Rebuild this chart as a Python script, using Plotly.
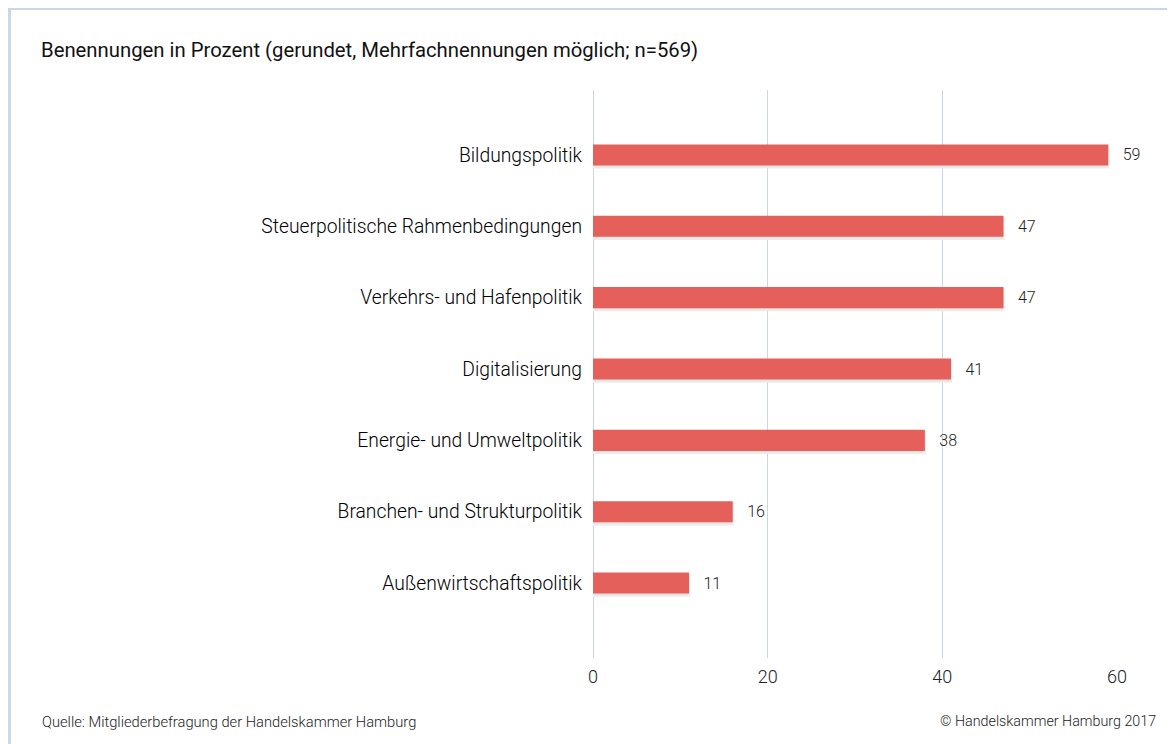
import plotly.graph_objects as go

categories = [
    "Bildungspolitik",
    "Steuerpolitische Rahmenbedingungen",
    "Verkehrs- und Hafenpolitik",
    "Digitalisierung",
    "Energie- und Umweltpolitik",
    "Branchen- und Strukturpolitik",
    "Außenwirtschaftspolitik",
]
values = [59, 47, 47, 41, 38, 16, 11]
x_ticks = [0, 20, 40, 60]

title_text = "Benennungen in Prozent (gerundet, Mehrfachnennungen möglich; n=569)"
source_text = "Quelle: Mitgliederbefragung der Handelskammer Hamburg"
copyright_text = "© Handelskammer Hamburg 2017"

FONT = "Roboto, Arial"
O = 8  # default body margin of the page
W, H = 1175 - O, 744 - O
L, R, T, B = 593 - O, 58, 90 - O, 86
pw, ph = W - L - R, H - T - B


def px(x):
    return (x - O - L) / pw


def py(y):
    return (H - B - (y - O)) / ph


cats = categories[::-1]
vals = values[::-1]
BW = 0.295

fig = go.Figure()
# subtle drop shadow
fig.add_trace(go.Bar(
    y=cats, x=vals, orientation="h",
    width=BW, offset=-BW / 2 - 0.03,
    marker=dict(color="#e2e2e2", line=dict(width=2, color="#ebebeb")),
    hoverinfo="skip",
))
fig.add_trace(go.Bar(
    y=cats, x=vals, orientation="h",
    width=BW, offset=-BW / 2,
    marker=dict(color="#e5605a", line=dict(width=0)),
    text=["\u2002\u2009" + str(v) for v in vals], textposition="outside",
    textfont=dict(family=FONT, size=16, color="#222222", weight=300),
    cliponaxis=False,
    hoverinfo="skip",
))

frame_color = "#c9d7e8"
shapes = [
    dict(type="rect", xref="paper", yref="paper",
         x0=px(7), x1=px(1180), y0=py(7), y1=py(10),
         fillcolor=frame_color, line=dict(width=0), layer="below"),
    dict(type="rect", xref="paper", yref="paper",
         x0=px(7), x1=px(11), y0=py(7), y1=py(750),
         fillcolor=frame_color, line=dict(width=0), layer="below"),
]

annotations = [
    dict(text=title_text, xref="paper", yref="paper", x=px(39), y=py(50),
         xanchor="left", yanchor="middle", showarrow=False,
         font=dict(family=FONT, size=20.3, color="#111111", weight=400)),
    dict(text=source_text, xref="paper", yref="paper", x=px(40), y=py(722),
         xanchor="left", yanchor="middle", showarrow=False,
         font=dict(family=FONT, size=14.7, color="#222222", weight=300)),
    dict(text=copyright_text, xref="paper", yref="paper", x=px(1158), y=py(721),
         xanchor="right", yanchor="middle", showarrow=False,
         font=dict(family=FONT, size=14.3, color="#222222", weight=300)),
]

fig.update_layout(
    width=W, height=H,
    margin=dict(l=L, r=R, t=T, b=B, pad=0),
    paper_bgcolor="white", plot_bgcolor="white",
    showlegend=False,
    barmode="overlay",
    shapes=shapes,
    annotations=annotations,
)
fig.update_xaxes(
    range=[0, 60], tickvals=x_ticks, ticktext=[str(t) for t in x_ticks],
    showgrid=True, gridcolor="#c8d6e6", gridwidth=1,
    zeroline=True, zerolinecolor="#c8d6e6", zerolinewidth=1,
    showline=False, ticks="", ticklabelstandoff=6,
    tickfont=dict(family=FONT, size=18, color="#222222", weight=300),
    fixedrange=True,
)
fig.update_yaxes(
    categoryorder="array", categoryarray=cats,
    range=[-1.05, 6.91],
    showgrid=False, zeroline=False, showline=False, ticks="",
    ticklabelstandoff=10,
    tickfont=dict(family=FONT, size=19.3, color="#000000", weight=300),
    fixedrange=True,
)

fig.write_html("out.html")
